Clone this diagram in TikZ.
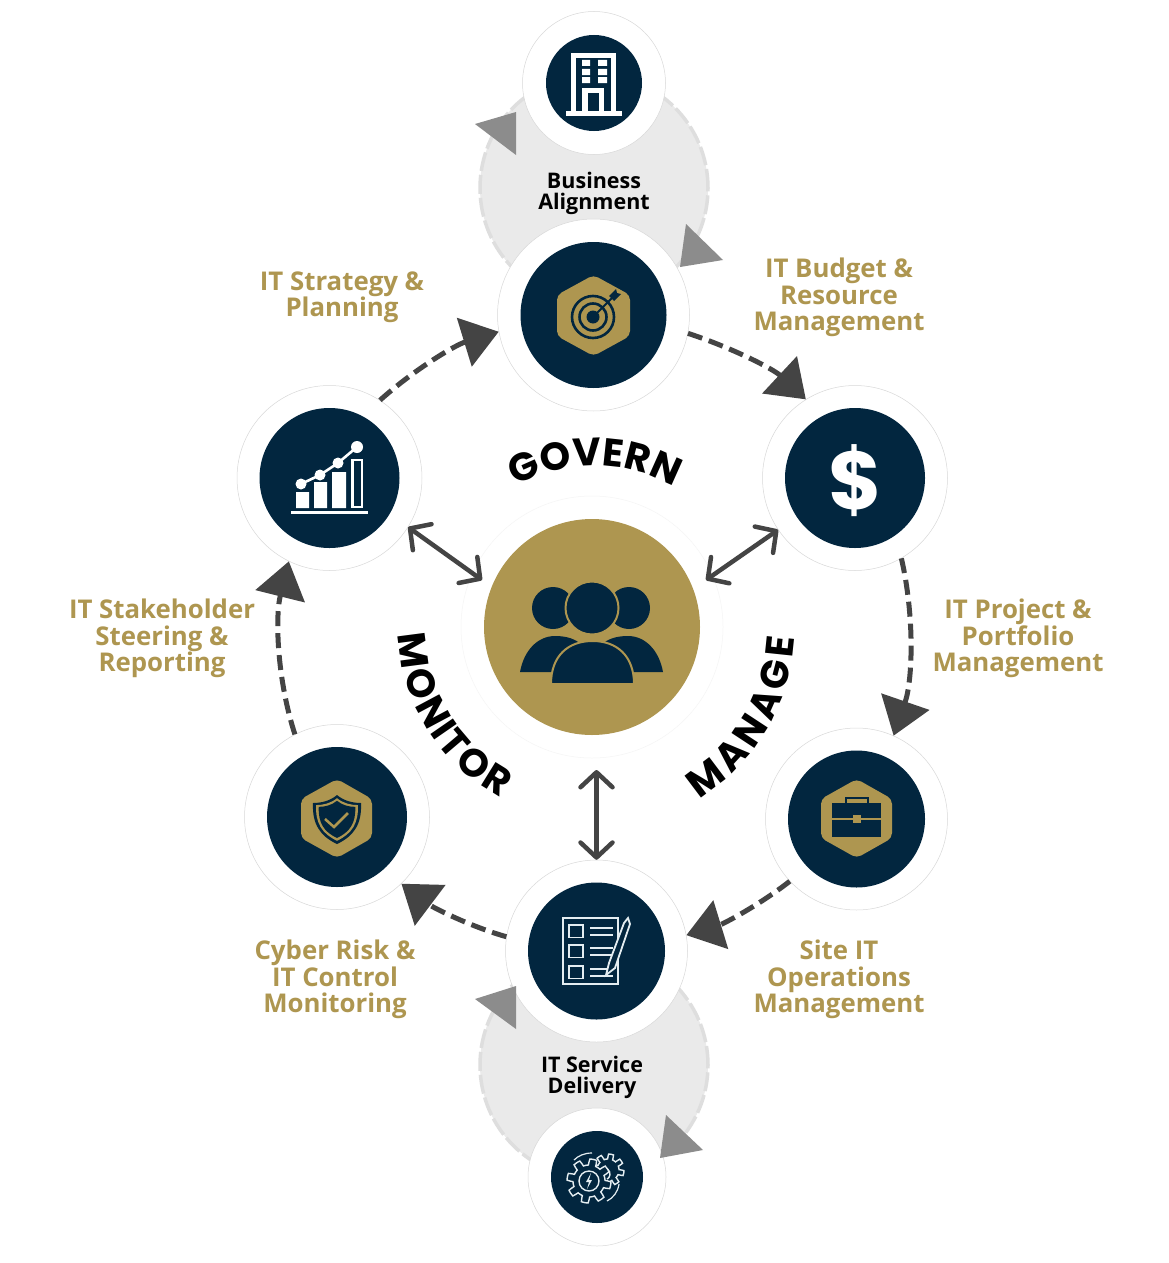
\documentclass[tikz,border=0pt]{standalone}
\usepackage{fontspec}
\setmainfont{Open Sans}
\newfontfamily\curvefont{Poppins}
\usetikzlibrary{arrows.meta,decorations.text}
\definecolor{NavyDisc}{HTML}{02263F}
\definecolor{GoldTone}{HTML}{AE9650}
\definecolor{DarkLine}{HTML}{444444}
\definecolor{GreyTip}{HTML}{8C8C8C}
\definecolor{LoopFill}{HTML}{EAEAEA}
\definecolor{LoopEdge}{HTML}{DEDEDE}
\definecolor{RingEdge}{HTML}{D8D8D8}
\definecolor{IconLine}{HTML}{E4EDF1}

\begin{document}
\begin{tikzpicture}[
  x=1pt,y=-1pt,
  ring/.style={circle,draw=RingEdge,line width=.5pt,fill=white,inner sep=0pt,minimum size=#1},
  disc/.style={circle,fill=NavyDisc,inner sep=0pt,minimum size=#1},
  loopback/.style={circle,draw=LoopEdge,fill=LoopFill,line width=3.5pt,dash pattern=on 19pt off 4pt,inner sep=0pt,minimum size=228pt},
  flow/.style={draw=DarkLine,line width=5pt,dash pattern=on 15pt off 7pt,looseness=.85,-{Triangle[length=36pt,width=50pt]}},
  link/.style={draw=DarkLine,line width=4.5pt,{Straight Barb[round,length=15pt,width=32pt]}-{Straight Barb[round,length=15pt,width=32pt]}},
  greytip/.style={fill=GreyTip},
  steplabel/.style={text=GoldTone,font=\fontsize{25.8}{26.3}\selectfont\bfseries,align=center,inner sep=0pt},
  looplabel/.style={text=black,font=\fontsize{21.5}{21}\selectfont\bfseries,align=center,inner sep=0pt},
  bend word/.style={decorate,decoration={text along path,text align=center,text={|\curvefont\fontsize{39}{39}\selectfont\bfseries|#1}}},
  wordletter/.style={font=\curvefont\fontsize{39}{39}\selectfont\bfseries,inner sep=0pt},
  hexa/.style={fill=GoldTone,rounded corners=5pt},
  iconline/.style={draw=IconLine,line width=1.8pt}
]
  \useasboundingbox (0,0) rectangle (1169,1263);
  \fill[white] (0,0) rectangle (1169,1263);

  \node[loopback] (alignloop) at (594,188) {};
  \node[loopback] (serviceloop) at (594,1065) {};

  \node[ring=143pt] (building) at (594,83) {};
  \node[disc=96pt] (buildingdisc) at (building) {};
  \node[ring=192pt] (target) at (593.5,315) {};
  \node[disc=146pt] (targetdisc) at (target) {};
  \node[ring=185pt] (dollar) at (855,478) {};
  \node[disc=140pt] (dollardisc) at (dollar) {};
  \node[ring=185pt] (chart) at (329.5,478) {};
  \node[disc=140pt] (chartdisc) at (chart) {};
  \node[ring=185pt] (shield) at (337,817) {};
  \node[disc=140pt] (shielddisc) at (shield) {};
  \node[ring=182pt] (briefcase) at (856.5,819) {};
  \node[disc=137pt] (briefcasedisc) at (briefcase) {};
  \node[ring=182pt] (checklist) at (596.5,951) {};
  \node[disc=137pt] (checklistdisc) at (checklist) {};
  \node[ring=138pt] (gears) at (597,1177) {};
  \node[disc=92pt] (gearsdisc) at (gears) {};

  \node[circle,draw=black!4,line width=.5pt,fill=white,inner sep=0pt,minimum size=262pt] (hubring) at (592,627) {};
  \node[circle,fill=GoldTone,inner sep=0pt,minimum size=216pt] (hub) at (592,627) {};
  \coordinate (hubwest) at (482,580);
  \coordinate (hubeast) at (706,580);
  \coordinate (hubsouth) at (596.5,770);

  \fill[greytip] (475,124) -- (516,112) -- (516,155) -- cycle;
  \fill[greytip] (686,224) -- (723,260) -- (680,267) -- cycle;
  \fill[greytip] (475,999) -- (516,986) -- (516,1029) -- cycle;
  \fill[greytip] (666,1115) -- (703,1150) -- (660,1158) -- cycle;

  \draw[flow] (chart.57) to[out=42,in=197] (target.190);
  \draw[flow] (target.-11) to[out=-18,in=137] (dollar.122);
  \draw[flow] (dollar.-60) to[out=-77,in=71] (briefcase.66);
  \draw[flow] (briefcase.223) to[out=218,in=17] (checklist.10);
  \draw[flow] (checklist.171) to[out=164,in=-37] (shield.-46);
  \draw[flow] (shield.117) to[out=108,in=256] (chart.244);

  \draw[link] (chart.-32) -- (hubwest);
  \draw[link] (dollar.-146) -- (hubeast);
  \draw[link] (hubsouth) -- (checklist.north);

  \path[bend word=GOVERN] (595,627) ++(-125:161) arc[start angle=-125,end angle=-55,radius=161];
  \foreach \ch/\ang [count=\n] in {M/172.6,O/161.7,N/151.9,I/145.3,T/139.7,O/131,R/121.8}
    \node[wordletter,rotate=90-\ang] (monitor\n) at ({592+180*cos(\ang)},{627+180*sin(\ang)}) {\ch};
  \foreach \ch/\ang [count=\n] in {M/53,A/42.6,N/33.3,A/24,G/14.5,E/6}
    \node[wordletter,rotate=90-\ang] (manage\n) at ({592+189*cos(\ang)},{627+189*sin(\ang)}) {\ch};

  \node[steplabel] (strategy) at (342,297.5) {IT Strategy \&\\Planning};
  \node[steplabel] (budget) at (839,297.5) {IT Budget \&\\Resource\\Management};
  \node[steplabel] (project) at (1018,638.5) {IT Project \&\\Portfolio\\Management};
  \node[steplabel] (steering) at (162,638.5) {IT Stakeholder\\Steering \&\\Reporting};
  \node[steplabel] (cyber) at (335,979.5) {Cyber Risk \&\\IT Control\\Monitoring};
  \node[steplabel] (operations) at (839,979.5) {Site IT\\Operations\\Management};
  \node[looplabel] (business) at (594,193) {Business\\Alignment};
  \node[looplabel] (delivery) at (592,1077.5) {IT Service\\Delivery};

  % building
  \draw[white,line width=5.5pt] (573.7,114) -- (573.7,55.7) -- (613.3,55.7) -- (613.3,114);
  \fill[white] (566,111) rectangle (622,115.5);
  \foreach \wy in {60,69,77}
    \fill[white] (582,\wy) rectangle (590,\wy+6) (598,\wy) rectangle (607,\wy+6);
  \draw[white,line width=5.5pt] (585,112) -- (585,90.7) -- (601.5,90.7) -- (601.5,112);

  % target
  \fill[hexa] (593.5,275) -- (630,295) -- (630,336) -- (593.5,356) -- (557,336) -- (557,295) -- cycle;
  \draw[NavyDisc,line width=2.6pt] (593,317) circle[radius=21] (593,317) circle[radius=13.5];
  \fill[NavyDisc] (593,317) circle[radius=6.5];
  \draw[NavyDisc,line width=2pt] (593,317) -- (612,298);
  \fill[NavyDisc] (609,296) -- (616,289) -- (617,293) -- (621,294) -- (614,301) -- cycle;

  % dollar
  \node[text=white,font=\curvefont\fontsize{82}{82}\selectfont\bfseries,inner sep=0pt] (dollarsign) at (855,481) {\$};

  % chart
  \fill[white] (291,511) rectangle (368,514);
  \fill[white] (296,492) rectangle (309,508) (314,482) rectangle (327,508) (332,472) rectangle (346,508);
  \draw[white,line width=2.6pt] (352.3,460) rectangle (362,507);
  \draw[white,line width=2.6pt] (301,484) -- (320,475) -- (338,463) -- (357,447);
  \fill[white] (301,484) circle[radius=5.5] (320,475) circle[radius=5.5] (338,463) circle[radius=5.5] (357,447) circle[radius=6];

  % shield
  \fill[hexa] (337,779) -- (372,799) -- (372,838) -- (337,858) -- (301,838) -- (301,799) -- cycle;
  \foreach \sc/\tone in {1/NavyDisc,.87/GoldTone,.76/NavyDisc}
    \fill[\tone,shift={(337,819)},scale=\sc] (0,-24) .. controls (7,-18) and (16,-16) .. (24,-16) .. controls (25,5) and (17,17) .. (0,25) .. controls (-17,17) and (-25,5) .. (-24,-16) .. controls (-16,-16) and (-7,-18) .. (0,-24) -- cycle;
  \draw[GoldTone,line width=2.5pt] (325,819) -- (334,827) -- (348,813);

  % briefcase
  \fill[hexa] (856.7,779) -- (892,799) -- (892,838) -- (856.7,858) -- (821,838) -- (821,799) -- cycle;
  \fill[NavyDisc] (832,803) rectangle (881,837);
  \draw[NavyDisc,line width=1.5pt] (846,803) -- (846,798) -- (868,798) -- (868,803);
  \fill[GoldTone] (832,818) rectangle (881,820);
  \fill[GoldTone] (852.5,815) rectangle (860.5,823);

  % checklist
  \draw[iconline] (563,918) rectangle (618,984);
  \foreach \cy in {925,945,966} {
    \draw[iconline] (569,\cy) rectangle (583,\cy+12.5);
    \draw[iconline] (590,\cy+3) -- (613,\cy+3) (590,\cy+10) -- (613,\cy+10);
  }
  \filldraw[draw=IconLine,fill=NavyDisc,line width=1.8pt] (606,975) -- (609,963) -- (624,923) -- (628,918) -- (630,924) -- (615,968) -- cycle;

  % gears
  \draw[iconline,line width=1.4pt] plot[domain=0:360,samples=161] ({608+(13.5+2.5*sign(sin(8*\x)))*cos(\x)},{1170+(13.5+2.5*sign(sin(8*\x)))*sin(\x)});
  \fill[NavyDisc] (604,1174) circle[radius=9];
  \draw[iconline,line width=1.4pt] (604,1174) ++(-140:6) arc[start angle=-140,end angle=60,radius=6];
  \draw[iconline,line width=1.4pt,fill=NavyDisc] plot[domain=0:360,samples=161] ({589+(19+3*sign(sin(8*\x)))*cos(\x)},{1181+(19+3*sign(sin(8*\x)))*sin(\x)});
  \draw[iconline,line width=1.4pt] (589,1181) circle[radius=10];
  \fill[IconLine] (591,1173) -- (586,1182) -- (589,1182) -- (587,1189) -- (592,1180) -- (589,1180) -- cycle;
  \draw[iconline,line width=1.2pt] (574,1160) .. controls (578,1156) and (584,1153) .. (592,1153);
  \draw[iconline,line width=1.2pt] (619,1184) .. controls (618,1192) and (613,1198) .. (607,1201);

  % people
  \fill[NavyDisc] (553,608) circle[radius=21] (629,608) circle[radius=21];
  \fill[NavyDisc] (520,672) .. controls (524,650) and (538,636) .. (555,636) .. controls (572,636) and (590,642) .. (592,672) -- cycle;
  \fill[NavyDisc] (663,672) .. controls (659,650) and (645,636) .. (628,636) .. controls (611,636) and (593,642) .. (591,672) -- cycle;
  \filldraw[draw=GoldTone,fill=NavyDisc,line width=2pt] (592,608) circle[radius=26.5];
  \filldraw[draw=GoldTone,fill=NavyDisc,line width=2pt] (551,684) .. controls (551,656) and (568,641) .. (592.5,641) .. controls (617,641) and (634,656) .. (634,684) -- cycle;
\end{tikzpicture}
\end{document}
